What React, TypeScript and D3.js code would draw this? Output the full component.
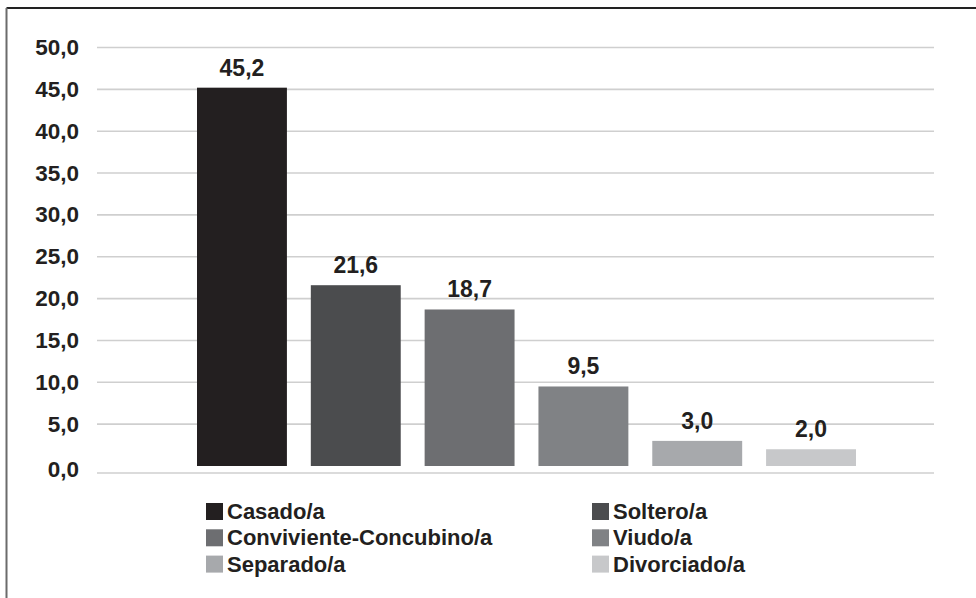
import React from "react";
import * as d3 from "d3";

const categories = ["Casado/a", "Soltero/a", "Conviviente-Concubino/a", "Viudo/a", "Separado/a", "Divorciado/a"];
const values = [45.2, 21.6, 18.7, 9.5, 3.0, 2.0];
const colors = ["#231f20", "#4b4c4e", "#6d6e71", "#808285", "#a7a9ac", "#c7c8ca"];
const yTicks = [0, 5, 10, 15, 20, 25, 30, 35, 40, 45, 50];

const W = 976;
const H = 598;
const fmt = (v: number) => v.toFixed(1).replace(".", ",");

export default function App() {
  const y = d3.scaleLinear().domain([0, 50]).range([466, 47.5]);
  const x = d3.scaleBand<string>().domain(categories).range([197, 856]).paddingInner(0.21).paddingOuter(0);
  const font = "'Liberation Sans', Arial, sans-serif";
  const legendOrder = [0, 1, 2, 3, 4, 5];
  return (
    <div style={{ position: "absolute", left: 0, top: 0 }}>
      <svg width={W} height={H} style={{ display: "block" }} fontFamily={font}>
        <rect x={0} y={0} width={W} height={H} fill="#fff" />
        <line x1={6.5} x2={W} y1={8} y2={8} stroke="#222" strokeWidth={1.8} />
        <line x1={6.5} x2={6.5} y1={8} y2={H} stroke="#6b6b6b" strokeWidth={2} />
        {yTicks.map((t) => (
          <g key={t}>
            <line x1={97} x2={934} y1={t === 0 ? 473 : y(t)} y2={t === 0 ? 473 : y(t)} stroke="#cfcfcf" strokeWidth={1.6} />
            <text x={79} y={t === 0 ? 469 : y(t)} textAnchor="end" dominantBaseline="central" fontSize={22.5} fontWeight="bold" fill="#231f20">
              {fmt(t)}
            </text>
          </g>
        ))}
        {categories.map((c, i) => (
          <g key={c}>
            <rect x={x(c)} y={y(values[i])} width={x.bandwidth()} height={y(0) - y(values[i])} fill={colors[i]} />
            <text x={(x(c) as number) + x.bandwidth() / 2} y={y(values[i]) - 12} textAnchor="middle" fontSize={23} fontWeight="bold" fill="#231f20">
              {fmt(values[i])}
            </text>
          </g>
        ))}
        {legendOrder.map((i) => {
          const col = i % 2;
          const row = Math.floor(i / 2);
          const lx = col === 0 ? 206 : 592;
          const ly = 503 + row * 26.3;
          return (
            <g key={i}>
              <rect x={lx} y={ly} width={17} height={17} fill={colors[i]} />
              <text x={lx + 21} y={ly + 8.5} dominantBaseline="central" fontSize={22} fontWeight="bold" fill="#231f20">
                {categories[i]}
              </text>
            </g>
          );
        })}
      </svg>
    </div>
  );
}
